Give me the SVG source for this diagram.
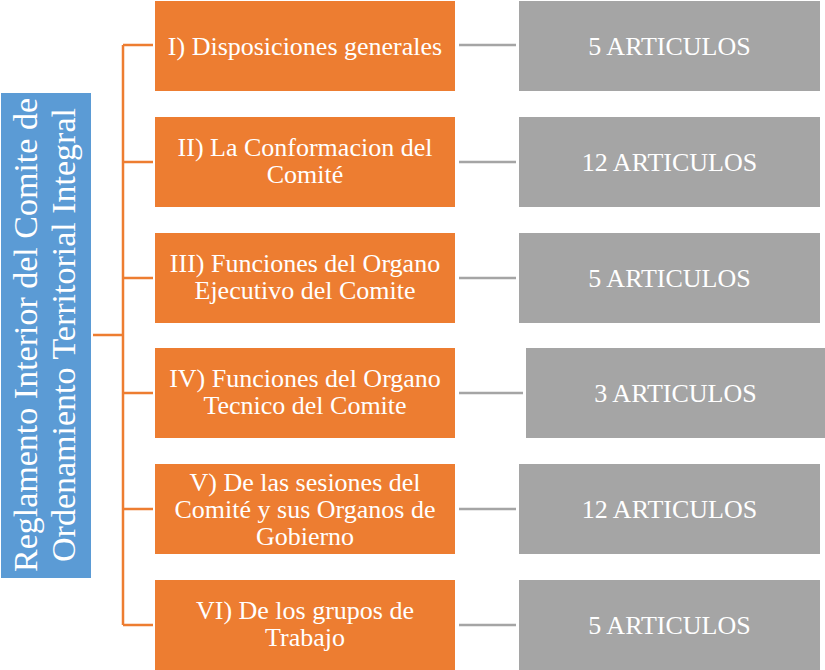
<svg xmlns="http://www.w3.org/2000/svg" width="825" height="670" viewBox="0 0 825 670">
<style>
.o{fill:#ED7D31}
.g{fill:#A5A5A5}
.b{fill:#5B9BD5}
text{fill:#FFFFFF;text-anchor:middle}
.t{font-size:26px}
.v{font-size:34px}
.oc{stroke:#ED7D31;stroke-width:2.5;fill:none}
.gc{stroke:#A5A5A5;stroke-width:2.5;fill:none}
</style>
<rect width="825" height="670" fill="#FFFFFF"/>
<g id="connectors">
<path class="oc" d="M93 335H123M123 45V625M123 45H153M123 162H153M123 278H153M123 393H153M123 509H153M123 625H153"/>
<path class="gc" d="M459 45H516M459 162H516M459 278H516M459 393H523M459 509H516M459 625H516"/>
</g>
<g font-family="'Liberation Serif', Tinos, 'Times New Roman', 'DejaVu Serif', serif">
<g id="root">
<rect class="b" x="1" y="93" width="90" height="485"/>
<text class="v" transform="translate(37,335) rotate(-90)">Reglamento Interior del Comite de</text>
<text class="v" transform="translate(75,335) rotate(-90)">Ordenamiento Territorial Integral</text>
</g>
<g id="n1">
<rect class="o" x="155" y="1" width="300" height="90"/>
<text class="t" x="305" y="55">I) Disposiciones generales</text>
</g>
<g id="n2">
<rect class="o" x="155" y="117" width="300" height="90"/>
<text class="t" x="305" y="156">II) La Conformacion del</text>
<text class="t" x="305" y="183">Comité</text>
</g>
<g id="n3">
<rect class="o" x="155" y="233" width="300" height="90"/>
<text class="t" x="305" y="272">III) Funciones del Organo</text>
<text class="t" x="305" y="299">Ejecutivo del Comite</text>
</g>
<g id="n4">
<rect class="o" x="155" y="348" width="300" height="90"/>
<text class="t" x="305" y="387">IV) Funciones del Organo</text>
<text class="t" x="305" y="414">Tecnico del Comite</text>
</g>
<g id="n5">
<rect class="o" x="155" y="464" width="300" height="90"/>
<text class="t" x="305" y="491">V) De las sesiones del</text>
<text class="t" x="305" y="518">Comité y sus Organos de</text>
<text class="t" x="305" y="545">Gobierno</text>
</g>
<g id="n6">
<rect class="o" x="155" y="580" width="300" height="90"/>
<text class="t" x="305" y="619">VI) De los grupos de</text>
<text class="t" x="305" y="646">Trabajo</text>
</g>
<g id="a1">
<rect class="g" x="519" y="1" width="301" height="90"/>
<text class="t" x="669.5" y="55">5 ARTICULOS</text>
</g>
<g id="a2">
<rect class="g" x="519" y="117" width="301" height="90"/>
<text class="t" x="669.5" y="171">12 ARTICULOS</text>
</g>
<g id="a3">
<rect class="g" x="519" y="233" width="301" height="90"/>
<text class="t" x="669.5" y="287">5 ARTICULOS</text>
</g>
<g id="a4">
<rect class="g" x="526" y="348" width="300" height="90"/>
<text class="t" x="675.5" y="402">3 ARTICULOS</text>
</g>
<g id="a5">
<rect class="g" x="519" y="464" width="301" height="90"/>
<text class="t" x="669.5" y="518">12 ARTICULOS</text>
</g>
<g id="a6">
<rect class="g" x="519" y="580" width="301" height="90"/>
<text class="t" x="669.5" y="634">5 ARTICULOS</text>
</g>
</g>
</svg>
